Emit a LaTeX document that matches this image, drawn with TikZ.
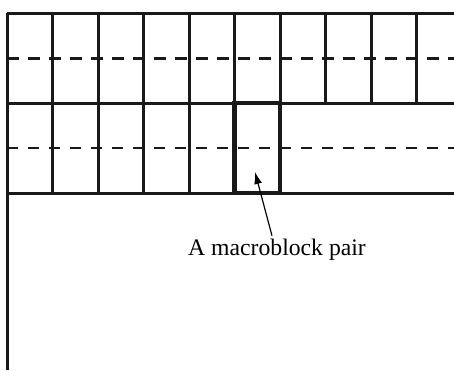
\documentclass[tikz,border=0pt]{standalone}
\usepackage{fontspec}
\setmainfont{Liberation Serif}
\usetikzlibrary{arrows.meta}

\tikzstyle{grid} = [line width=3pt, color=black!90]
\tikzstyle{half} = [line width=3pt, color=black!90, dash pattern=on 12pt off 9pt]
\tikzstyle{halfthin} = [line width=2.2pt, color=black!90, dash pattern=on 11pt off 10pt]
\tikzstyle{mb} = [rectangle, draw=black!90, line width=4.5pt, minimum width=45.5pt, minimum height=90pt, inner sep=0pt]

\begin{document}
\begin{tikzpicture}[x=1pt,y=-1pt]
\useasboundingbox (0,0) rectangle (454,370);

% row of macroblock pairs above
\foreach \i in {0,...,9}
    \draw[grid] (7+45.5*\i,13) -- (7+45.5*\i,103);
\foreach \i in {1,...,4}
    \draw[grid] (7+45.5*\i,103) -- (7+45.5*\i,193);

\draw[grid] (7,13) -- (454,13);
\draw[grid] (7,103) -- (454,103);
\draw[grid] (7,193) -- (454,193);
\draw[grid] (7,13) -- (7,370);

\draw[half] (7,58) -- (454,58);
\draw[halfthin] (7,148) -- (454,148);

% current pair
\node[mb] (pair) at (257.25,148) {};
\coordinate (tip) at (255,172);

\node (label) at (277,250) {\fontsize{23.7}{28}\selectfont A macroblock pair};
\draw[-{Latex[length=12pt,width=8pt]}, line width=1.2pt] ([xshift=-5pt]label.north) -- (tip);

\end{tikzpicture}
\end{document}
